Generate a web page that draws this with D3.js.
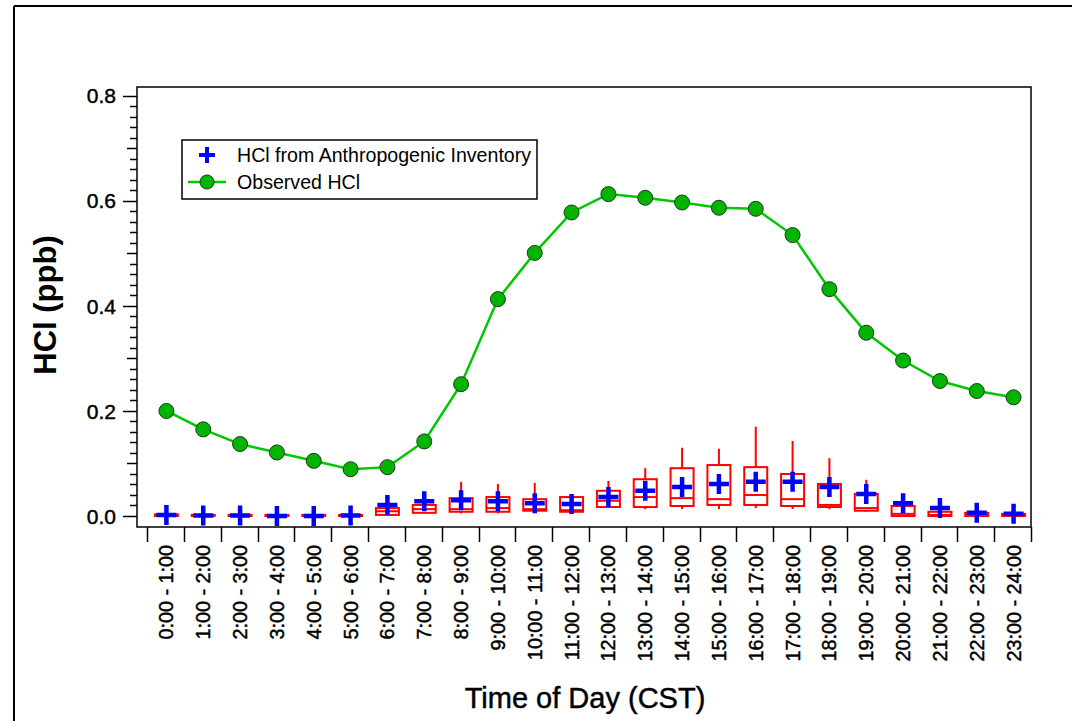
<!DOCTYPE html>
<html>
<head>
<meta charset="utf-8">
<script src="https://cdn.jsdelivr.net/npm/d3@7"></script>
<style>
  body { margin: 0; background: #fff; }
  text { font-family: "Liberation Sans", Arial, sans-serif; fill: #000; }
  .heavy { stroke: #000; stroke-width: 0.45px; }
</style>
</head>
<body>
<div id="chart"></div>
<script>
// hour bins on the x axis
var hours = ["0:00 - 1:00", "1:00 - 2:00", "2:00 - 3:00", "3:00 - 4:00", "4:00 - 5:00", "5:00 - 6:00",
  "6:00 - 7:00", "7:00 - 8:00", "8:00 - 9:00", "9:00 - 10:00", "10:00 - 11:00", "11:00 - 12:00",
  "12:00 - 13:00", "13:00 - 14:00", "14:00 - 15:00", "15:00 - 16:00", "16:00 - 17:00", "17:00 - 18:00",
  "18:00 - 19:00", "19:00 - 20:00", "20:00 - 21:00", "21:00 - 22:00", "22:00 - 23:00", "23:00 - 24:00"];

// observed HCl (ppb), green line
var observed = [0.200, 0.165, 0.137, 0.121, 0.105, 0.089, 0.093, 0.142, 0.251, 0.413, 0.501, 0.578,
  0.613, 0.606, 0.597, 0.587, 0.585, 0.535, 0.432, 0.349, 0.296, 0.257, 0.238, 0.226];

// inventory based HCl, mean (blue plus) and box stats (red)
var invMean = [0.002, 0.001, 0.001, 0.000, 0.000, 0.001, 0.021, 0.028, 0.030, 0.028, 0.024, 0.023,
  0.036, 0.048, 0.055, 0.061, 0.065, 0.065, 0.055, 0.042, 0.024, 0.015, 0.006, 0.004];
var invQ1 = [0.000, 0.000, 0.000, 0.000, 0.000, 0.000, 0.002, 0.006, 0.008, 0.008, 0.010, 0.008,
  0.017, 0.017, 0.019, 0.021, 0.021, 0.019, 0.017, 0.010, 0.000, 0.000, 0.000, 0.000];
var invMedian = [0.001, 0.001, 0.001, 0.001, 0.001, 0.001, 0.009, 0.013, 0.013, 0.015, 0.013, 0.011,
  0.029, 0.036, 0.034, 0.032, 0.040, 0.032, 0.021, 0.015, 0.004, 0.002, 0.002, 0.001];
var invQ3 = [0.003, 0.002, 0.002, 0.002, 0.002, 0.002, 0.015, 0.021, 0.034, 0.036, 0.032, 0.036,
  0.048, 0.070, 0.091, 0.097, 0.093, 0.080, 0.061, 0.042, 0.019, 0.008, 0.006, 0.004];
var invLow = [0.000, 0.000, 0.000, 0.000, 0.000, 0.000, 0.001, 0.004, 0.005, 0.005, 0.006, 0.006,
  0.015, 0.013, 0.013, 0.013, 0.015, 0.013, 0.013, 0.008, 0.000, 0.000, 0.000, 0.000];
var invHigh = [0.003, 0.002, 0.002, 0.002, 0.002, 0.002, 0.016, 0.022, 0.065, 0.061, 0.063, 0.037,
  0.067, 0.091, 0.130, 0.128, 0.170, 0.143, 0.110, 0.069, 0.019, 0.008, 0.006, 0.004];

var yTicks = [0.0, 0.2, 0.4, 0.6, 0.8];

var width = 1072, height = 721;
var plotL = 137, plotR = 1031, plotT = 87, plotB = 527;

var svg = d3.select('#chart').append('svg')
  .attr('width', width)
  .attr('height', height);

// outer frame (top + left only)
svg.append('line').attr('x1', 14).attr('x2', width).attr('y1', 6).attr('y2', 6)
  .attr('stroke', '#000').attr('stroke-width', 2);
svg.append('line').attr('x1', 14).attr('x2', 14).attr('y1', 6).attr('y2', height)
  .attr('stroke', '#000').attr('stroke-width', 2);

var x = d3.scaleBand().domain(hours).range([148, 1032]).padding(0);
var y = d3.scaleLinear().domain([-0.021, 0.817]).range([plotB, plotT]);
var cx = function(i) { return x(hours[i]) + x.bandwidth() / 2; };

// y axis ticks: minor every 0.02, medium at 0.1, major at 0.2
var yMinor = d3.range(0, 41).map(function(k) { return k * 0.02; });
svg.append('g').selectAll('line').data(yMinor).enter().append('line')
  .attr('x1', function(d, k) { return plotL - (k % 10 === 0 ? 14 : (k % 5 === 0 ? 10 : 7)); })
  .attr('x2', plotL)
  .attr('y1', function(d) { return Math.round(y(d)) + 0.5; })
  .attr('y2', function(d) { return Math.round(y(d)) + 0.5; })
  .attr('stroke', '#000').attr('stroke-width', 1.5);

svg.append('g').selectAll('text').data(yTicks).enter().append('text')
  .attr('class', 'heavy')
  .attr('x', 116)
  .attr('y', function(d) { return y(d); })
  .attr('dy', '0.36em')
  .attr('text-anchor', 'end')
  .style('font-size', '21px')
  .text(function(d) { return d3.format('.1f')(d); });

// x axis ticks at bin edges
var edges = hours.map(function(h) { return x(h); }).concat([x.range()[1]]);
svg.append('g').selectAll('line').data(edges).enter().append('line')
  .attr('x1', function(d) { return Math.round(d) - 0.5; })
  .attr('x2', function(d) { return Math.round(d) - 0.5; })
  .attr('y1', plotB).attr('y2', plotB + 15)
  .attr('stroke', '#000').attr('stroke-width', 1.5);

svg.append('g').selectAll('text').data(hours).enter().append('text')
  .attr('class', 'heavy')
  .attr('transform', function(d, i) { return 'translate(' + cx(i) + ',545) rotate(-90)'; })
  .attr('dy', '0.35em')
  .attr('text-anchor', 'end')
  .style('font-size', '19.8px')
  .text(function(d) { return d; });

// axis titles
svg.append('text')
  .attr('transform', 'translate(56,305) rotate(-90)')
  .attr('text-anchor', 'middle')
  .style('font-size', '31px').style('font-weight', 'bold')
  .text('HCl (ppb)');
svg.append('text')
  .attr('class', 'heavy')
  .attr('x', 585).attr('y', 708)
  .attr('text-anchor', 'middle')
  .style('font-size', '29px')
  .text('Time of Day (CST)');

// box plots
var boxW = 23;
var boxes = svg.append('g').attr('stroke', '#ff0000').attr('stroke-width', 2).attr('fill', 'none');
hours.forEach(function(h, i) {
  var c = cx(i);
  boxes.append('line').attr('x1', c).attr('x2', c)
    .attr('y1', y(invQ3[i])).attr('y2', y(invHigh[i]));
  boxes.append('line').attr('x1', c).attr('x2', c)
    .attr('y1', y(invQ1[i])).attr('y2', y(invLow[i]));
  boxes.append('rect')
    .attr('x', c - boxW / 2).attr('width', boxW)
    .attr('y', y(invQ3[i])).attr('height', Math.max(1, y(invQ1[i]) - y(invQ3[i])));
  boxes.append('line').attr('x1', c - boxW / 2).attr('x2', c + boxW / 2)
    .attr('y1', y(invMedian[i])).attr('y2', y(invMedian[i]));
});

// observed line + circles
var line = d3.line()
  .x(function(d, i) { return cx(i); })
  .y(function(d) { return y(d); });
svg.append('path').datum(observed)
  .attr('d', line)
  .attr('fill', 'none')
  .attr('stroke', '#00c800').attr('stroke-width', 2.5);
svg.append('g').selectAll('circle').data(observed).enter().append('circle')
  .attr('cx', function(d, i) { return cx(i); })
  .attr('cy', function(d) { return y(d); })
  .attr('r', 7.5)
  .attr('fill', '#00b400')
  .attr('stroke', '#1a3a1a').attr('stroke-width', 1);

// blue plus markers
var plus = 'M-10,0H10M0,-10V10';
svg.append('g').selectAll('path').data(invMean).enter().append('path')
  .attr('transform', function(d, i) { return 'translate(' + cx(i) + ',' + y(d) + ')'; })
  .attr('d', plus)
  .attr('stroke', '#0000ff').attr('stroke-width', 4.5).attr('fill', 'none');

// plot frame
svg.append('rect')
  .attr('x', plotL).attr('y', plotT)
  .attr('width', plotR - plotL).attr('height', plotB - plotT)
  .attr('fill', 'none').attr('stroke', '#000').attr('stroke-width', 1.5);

// legend
var lg = svg.append('g');
lg.append('rect').attr('x', 182).attr('y', 140).attr('width', 355).attr('height', 59)
  .attr('fill', '#fff').attr('stroke', '#000').attr('stroke-width', 1.5);
lg.append('path').attr('transform', 'translate(207,155)')
  .attr('d', 'M-8,0H8M0,-8V8')
  .attr('stroke', '#0000ff').attr('stroke-width', 4).attr('fill', 'none');
lg.append('line').attr('x1', 188).attr('x2', 226).attr('y1', 182).attr('y2', 182)
  .attr('stroke', '#00c800').attr('stroke-width', 2.5);
lg.append('circle').attr('cx', 207).attr('cy', 182).attr('r', 7)
  .attr('fill', '#00b400').attr('stroke', '#1a3a1a').attr('stroke-width', 1);
lg.append('text').attr('x', 237).attr('y', 162).style('font-size', '19.6px')
  .text('HCl from Anthropogenic Inventory');
lg.append('text').attr('x', 237).attr('y', 189).style('font-size', '19.6px')
  .text('Observed HCl');
</script>
</body>
</html>
